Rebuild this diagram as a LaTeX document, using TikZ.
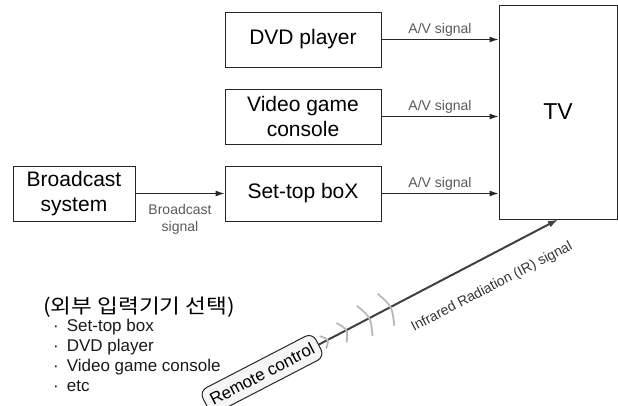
\documentclass[tikz,border=0pt]{standalone}
\usepackage{fontspec}
\setmainfont{Liberation Sans}
\newfontfamily\krfont[FakeStretch=1.13]{Noto Sans CJK KR}
\usetikzlibrary{arrows.meta}
\begin{document}
\begin{tikzpicture}[x=1pt,y=1pt,
  box/.style={draw=black!85, line width=1pt, minimum width=156pt, minimum height=55pt,
    align=center, font=\fontsize{21}{25}\selectfont, inner sep=0pt},
  sig/.style={draw=black!85, line width=1pt, -{Latex[length=9pt,width=6pt]}},
  lbl/.style={text=black!65, font=\fontsize{14}{17}\selectfont, inner sep=0pt, align=center},
  remote/.style={draw=black!85, fill=gray!8, rounded corners=8pt, line width=1pt,
    font=\fontsize{17}{19}\selectfont, inner xsep=6pt, minimum height=27pt},
  irarrow/.style={draw=black!75, line width=2pt, -{Latex[length=10pt,width=7pt]}},
  wave/.style={draw=black!28, line width=1.8pt},
  item/.style={anchor=west, inner sep=0pt, font=\fontsize{17}{19}\selectfont, text=black!90}
]
\useasboundingbox (0,0) rectangle (618,-405);
\node[box] (dvd) at (303,-39.5) {DVD player};
\node[box] (vgc) at (303,-116.5) {Video game\\console};
\node[box] (stb) at (303,-193.5) {Set-top boX};
\node[box, minimum width=118pt, minimum height=214pt, font=\fontsize{23}{25}\selectfont] (tv) at (558,-112) {TV};
\node[box, minimum width=122pt] (bs) at (74,-193.5) {Broadcast\\system};

\draw[sig] (dvd.east) -- (dvd.east -| tv.west) node[lbl, midway, yshift=10pt] {A/V signal};
\draw[sig] (vgc.east) -- (vgc.east -| tv.west) node[lbl, midway, yshift=10pt] {A/V signal};
\draw[sig] (stb.east) -- (stb.east -| tv.west) node[lbl, midway, yshift=10pt] {A/V signal};
\draw[sig] (bs.east) -- (stb.west) node[lbl, midway, yshift=-26pt] {Broadcast\\signal};

\node[remote, rotate=27.4] (rc) at (262,-374) {Remote control};
\draw[irarrow] (rc.east) -- (tv.south);
\begin{scope}[shift={(rc.east)}, rotate=27.4]
  \foreach \d/\h in {8/7, 29/11, 55/17, 79/18}
    \draw[wave] (\d-3.5,\h) .. controls (\d+3.5,0) .. (\d-3.5,-\h);
\end{scope}
\node[lbl, rotate=27.4, text=black!80] (irl) at (492,-287) {Infrared Radiation (IR) signal};

\node[anchor=west, inner sep=0pt, font=\krfont\fontsize{20}{22}\selectfont] (hd) at (43,-307) {(외부 입력기기 선택)};
\node[item] (i1) at (53,-327) {\textperiodcentered\hspace{8pt}Set-top box};
\node[item] (i2) at (53,-347) {\textperiodcentered\hspace{8pt}DVD player};
\node[item] (i3) at (53,-367) {\textperiodcentered\hspace{8pt}Video game console};
\node[item] (i4) at (53,-386) {\textperiodcentered\hspace{8pt}etc};
\end{tikzpicture}
\end{document}
